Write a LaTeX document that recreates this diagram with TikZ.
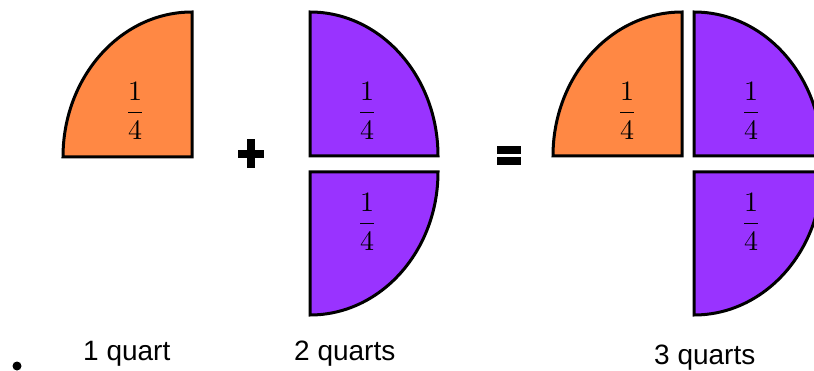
\documentclass[tikz,border=0pt]{standalone}
\usepackage{fontspec}
\newfontfamily\labelfont{Liberation Sans}
\definecolor{qorange}{HTML}{FF8844}
\definecolor{qpurple}{HTML}{9933FF}
\newcommand{\qfrac}{\scalebox{2.8}{$\displaystyle\frac{1}{4}$}}
\begin{document}
\begin{tikzpicture}[x=1pt,y=1pt,
  orangeq/.style={fill=qorange,draw=black,line width=3pt,line join=miter},
  purpleq/.style={fill=qpurple,draw=black,line width=3pt,line join=miter},
  frac/.style={inner sep=0pt},
  lbl/.style={anchor=base west,inner sep=0pt,font=\labelfont\fontsize{28}{30}\selectfont}]
\useasboundingbox (0,0) rectangle (814,370);
\clip (0,0) rectangle (814,370);
% left orange quarter
\draw[orangeq] (192,213) -- (63,213) arc[start angle=180,end angle=90,x radius=129,y radius=145] -- cycle;
\node[frac] (f1) at (135,259) {\qfrac};
% plus
\fill (238,212) rectangle (264,220);
\fill (247,202) rectangle (255,231);
% middle purple quarters
\draw[purpleq] (310,214) -- (438,214) arc[start angle=0,end angle=90,x radius=128,y radius=144] -- cycle;
\node[frac] (f2) at (367,259) {\qfrac};
\draw[purpleq] (310,198) -- (438,198) arc[start angle=0,end angle=-90,x radius=128,y radius=143] -- cycle;
\node[frac] (f3) at (367,148) {\qfrac};
% equals
\fill (497,216) rectangle (521,224);
\fill (497,205) rectangle (521,213);
% right group
\draw[orangeq] (682,214) -- (553,214) arc[start angle=180,end angle=90,x radius=129,y radius=144] -- cycle;
\node[frac] (f4) at (627,259) {\qfrac};
\draw[purpleq] (694,214) -- (822,214) arc[start angle=0,end angle=90,x radius=128,y radius=144] -- cycle;
\node[frac] (f5) at (751,259) {\qfrac};
\draw[purpleq] (694,198) -- (822,198) arc[start angle=0,end angle=-90,x radius=128,y radius=143] -- cycle;
\node[frac] (f6) at (751,148) {\qfrac};
% labels
\fill (17,4) circle[radius=4.5];
\node[lbl] (l1) at (83,10) {1 quart};
\node[lbl] (l2) at (294,10) {2 quarts};
\node[lbl] (l3) at (654,6) {3 quarts};
\end{tikzpicture}
\end{document}
